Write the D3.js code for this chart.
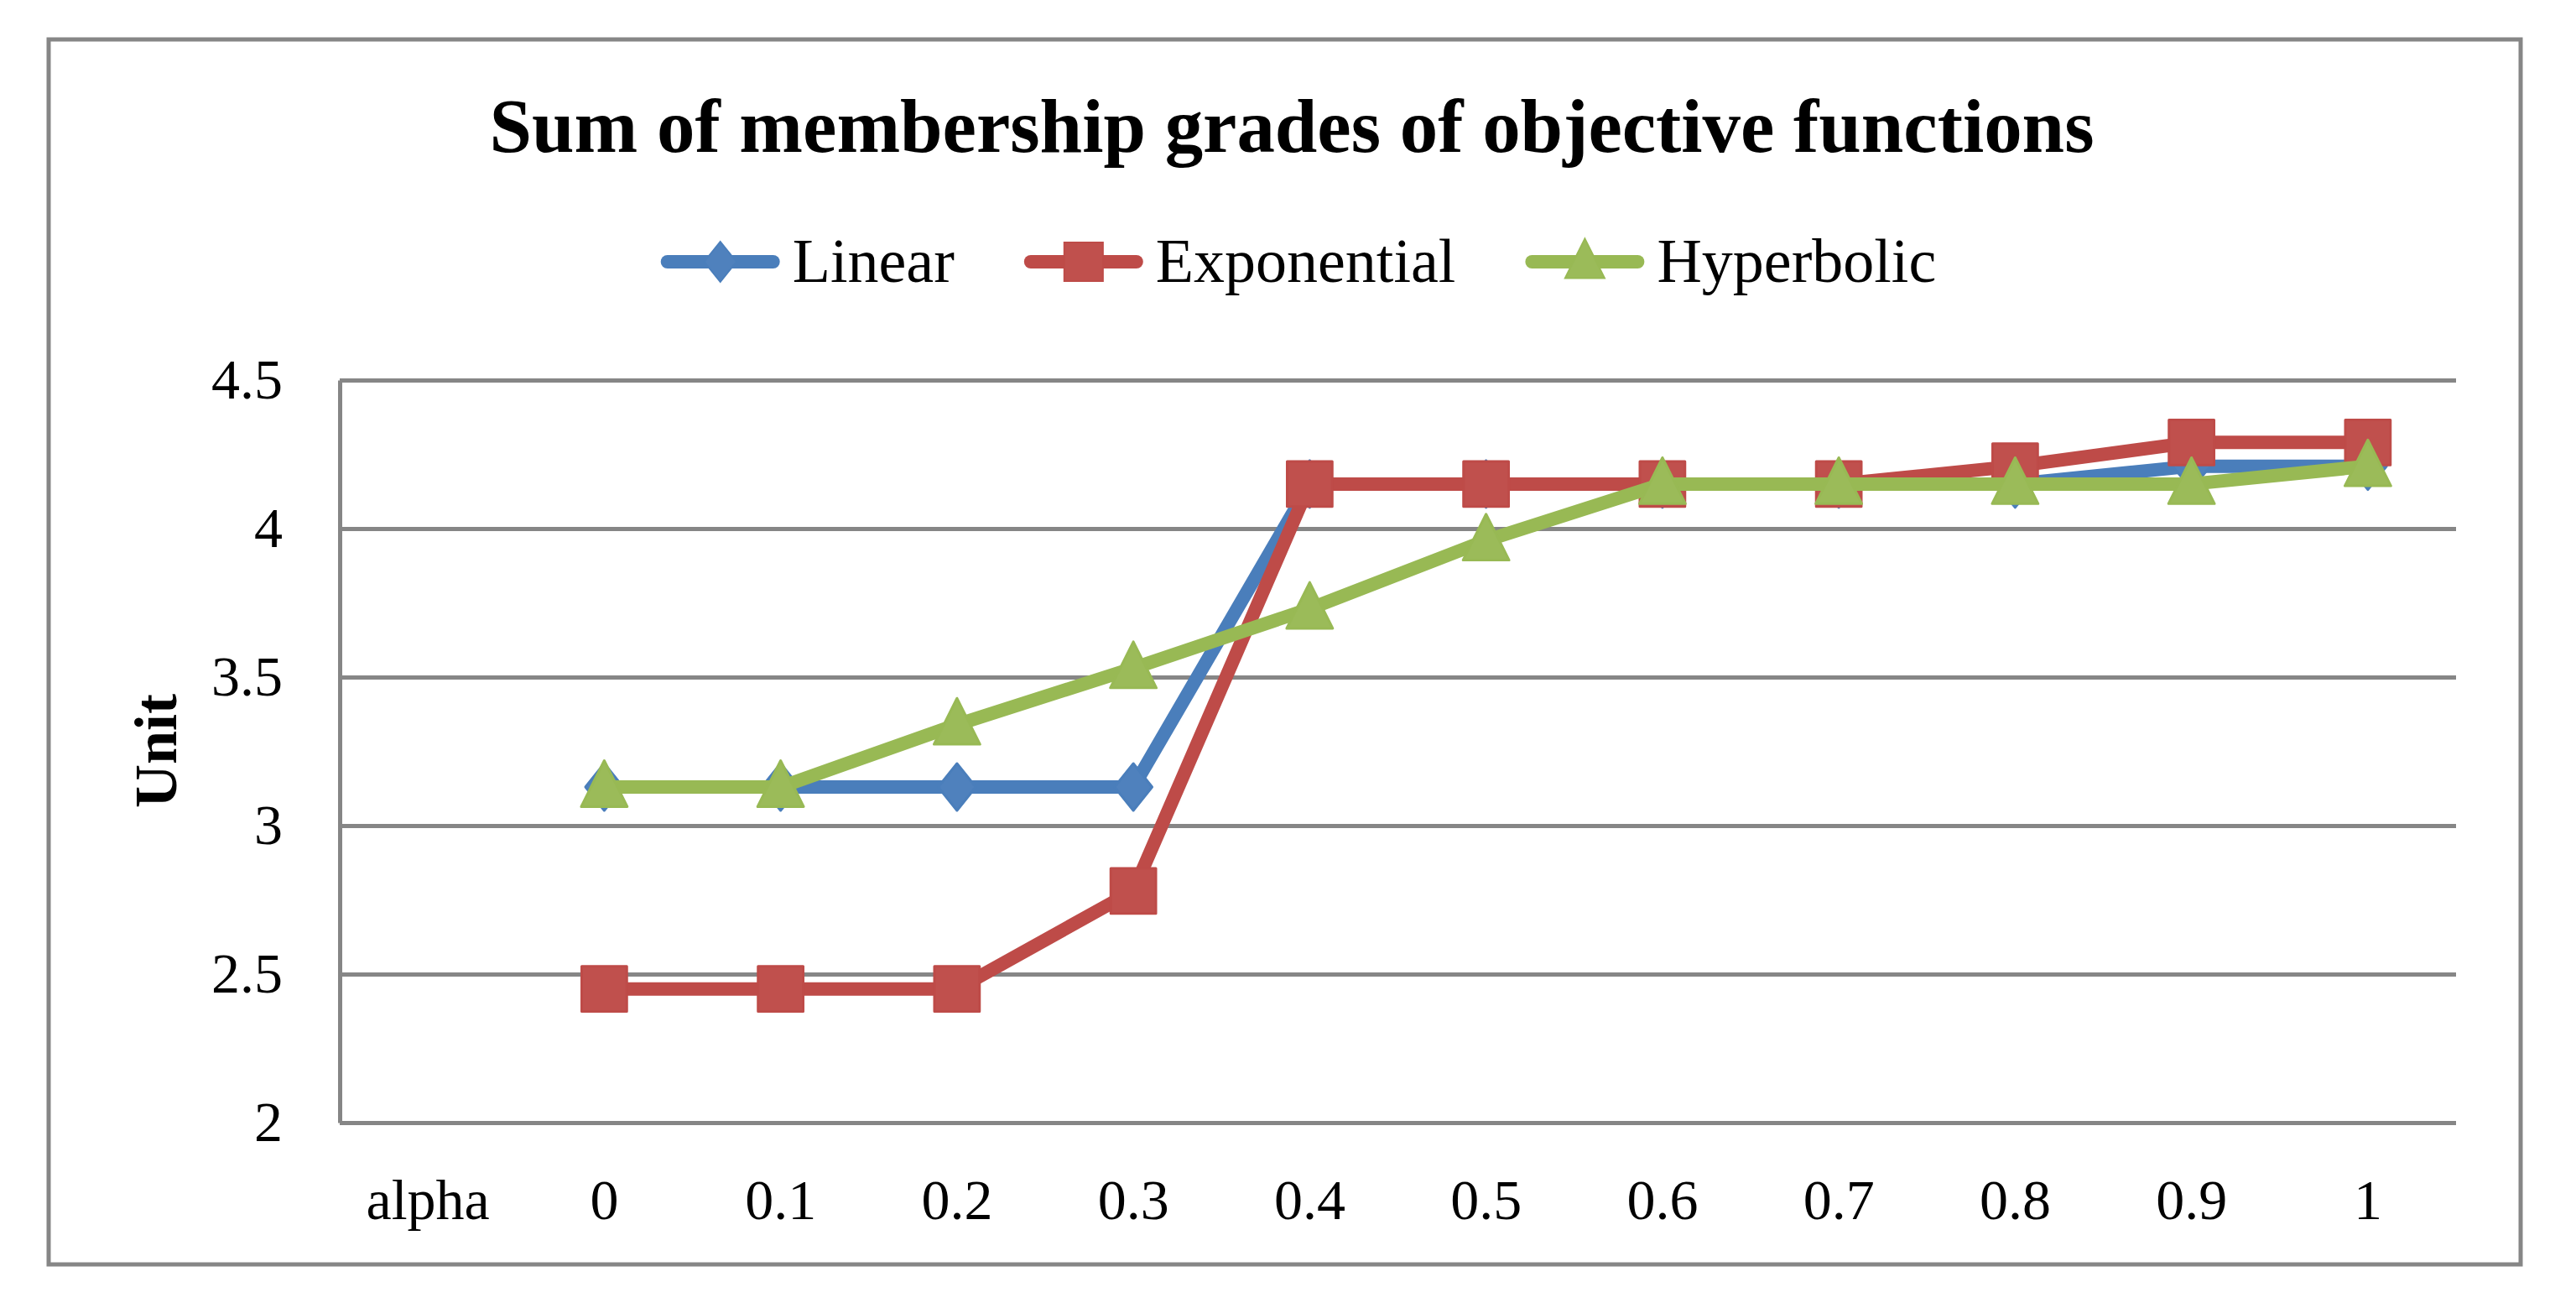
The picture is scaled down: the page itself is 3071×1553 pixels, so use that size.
<!DOCTYPE html>
<html lang="en">
<head>
<meta charset="utf-8">
<script src="https://d3js.org/d3.v7.min.js"></script>
<title>Sum of membership grades of objective functions</title>
<style>
  body { margin: 0; background: #fff; }
  text { font-family: "Liberation Serif", "Times New Roman", serif; fill: #000; }
  .grid line { stroke: #868686; stroke-width: 5px; }
  .grid path { stroke: #868686; stroke-width: 5px; }
  .xaxis path, .xaxis line { display: none; }
</style>
</head>
<body>
<script>
// data
var categories = ["alpha", "0", "0.1", "0.2", "0.3", "0.4", "0.5", "0.6", "0.7", "0.8", "0.9", "1"];
var linear      = [null, 3.13, 3.13, 3.13, 3.13, 4.15, 4.15, 4.15, 4.15, 4.15, 4.21, 4.21];
var exponential = [null, 2.45, 2.45, 2.45, 2.78, 4.15, 4.15, 4.15, 4.15, 4.21, 4.29, 4.29];
var hyperbolic  = [null, 3.13, 3.13, 3.34, 3.53, 3.73, 3.96, 4.15, 4.15, 4.15, 4.15, 4.21];
var yTicks = [2, 2.5, 3, 3.5, 4, 4.5];
var seriesNames = ["Linear", "Exponential", "Hyperbolic"];

var series = [
  {name: seriesNames[0], values: linear,      line: "#4A7EBB", fill: "#4F81BD", shape: "diamond"},
  {name: seriesNames[1], values: exponential, line: "#BE4B48", fill: "#C0504D", shape: "square"},
  {name: seriesNames[2], values: hyperbolic,  line: "#98B954", fill: "#9BBB59", shape: "triangle"}
];

var width = 3071, height = 1553;
var plotL = 405, plotR = 2928, plotT = 453, plotB = 1338;

var svg = d3.select("body").append("svg")
  .attr("width", width)
  .attr("height", height);

// outer chart border
svg.append("rect")
  .attr("x", 58).attr("y", 47)
  .attr("width", 2947).attr("height", 1460)
  .attr("fill", "#fff")
  .attr("stroke", "#868686")
  .attr("stroke-width", 5);

var x = d3.scaleBand().domain(categories).range([plotL, plotR]).padding(0);
var y = d3.scaleLinear().domain([2, 4.5]).range([plotB, plotT]);
var cx = function(i) { return x(categories[i]) + x.bandwidth() / 2; };

// gridlines + y labels
var gy = svg.append("g")
  .attr("class", "grid")
  .attr("transform", "translate(" + plotL + ",0)")
  .call(d3.axisLeft(y).tickValues(yTicks).tickFormat(function(d){ return d; })
    .tickSize(-(plotR - plotL)).tickSizeOuter(0).tickPadding(68));
gy.selectAll("text").style("font-size", "68px");

// x labels
var gx = svg.append("g")
  .attr("class", "xaxis")
  .attr("transform", "translate(0," + plotB + ")")
  .call(d3.axisBottom(x).tickSize(0).tickPadding(67));
gx.selectAll("text").style("font-size", "68px");

// marker path
function marker(shape, s) {
  if (shape === "diamond") {
    var w = s * 0.4, h = s * 0.5;
    return "M0," + (-h) + "L" + w + ",0L0," + h + "L" + (-w) + ",0Z";
  }
  if (shape === "square") {
    var a = s * 0.48;
    return "M" + (-a) + "," + (-a) + "H" + a + "V" + a + "H" + (-a) + "Z";
  }
  var t = s * 0.49;
  return "M0," + (-t - 4) + "L" + t + "," + (t - 4) + "L" + (-t) + "," + (t - 4) + "Z";
}

var line = d3.line()
  .defined(function(d){ return d != null; })
  .x(function(d, i){ return cx(i); })
  .y(function(d){ return y(d); });

series.forEach(function(s) {
  var g = svg.append("g");
  g.append("path")
    .attr("d", line(s.values))
    .attr("fill", "none")
    .attr("stroke", s.line)
    .attr("stroke-width", 16)
    .attr("stroke-linejoin", "round")
    .attr("stroke-linecap", "round");
  g.selectAll(".pt")
    .data(s.values.map(function(v, i){ return {v: v, i: i}; }).filter(function(d){ return d.v != null; }))
    .enter().append("path")
    .attr("d", marker(s.shape, 56))
    .attr("transform", function(d){ return "translate(" + cx(d.i) + "," + y(d.v) + ")"; })
    .attr("fill", s.fill)
    .attr("stroke", s.line)
    .attr("stroke-width", 3)
    .attr("stroke-linejoin", "round");
});

// title
svg.append("text")
  .attr("x", 1540).attr("y", 181)
  .attr("text-anchor", "middle")
  .attr("textLength", 1913)
  .attr("lengthAdjust", "spacingAndGlyphs")
  .style("font-size", "90px")
  .style("font-weight", "bold")
  .text("Sum of membership grades of objective functions");

// y axis title
svg.append("text")
  .attr("transform", "translate(210,895) rotate(-90)")
  .attr("text-anchor", "middle")
  .style("font-size", "72px")
  .style("font-weight", "bold")
  .text("Unit");

// legend
var legend = svg.append("g");
var lx = 0;
series.forEach(function(s) {
  var item = legend.append("g").attr("transform", "translate(" + lx + ",312)");
  item.append("line")
    .attr("x1", 8).attr("x2", 134)
    .attr("stroke", s.line).attr("stroke-width", 16)
    .attr("stroke-linecap", "round");
  item.append("path")
    .attr("d", marker(s.shape, 48))
    .attr("transform", "translate(71,0)")
    .attr("fill", s.fill).attr("stroke", s.line).attr("stroke-width", 2);
  var t = item.append("text")
    .attr("x", 157).attr("y", 24)
    .style("font-size", "74px")
    .text(s.name);
  lx += 157 + t.node().getComputedTextLength() + 83;
});
var lw = lx - 83;
legend.attr("transform", "translate(" + (1548 - lw / 2) + ",0)");
</script>
</body>
</html>
